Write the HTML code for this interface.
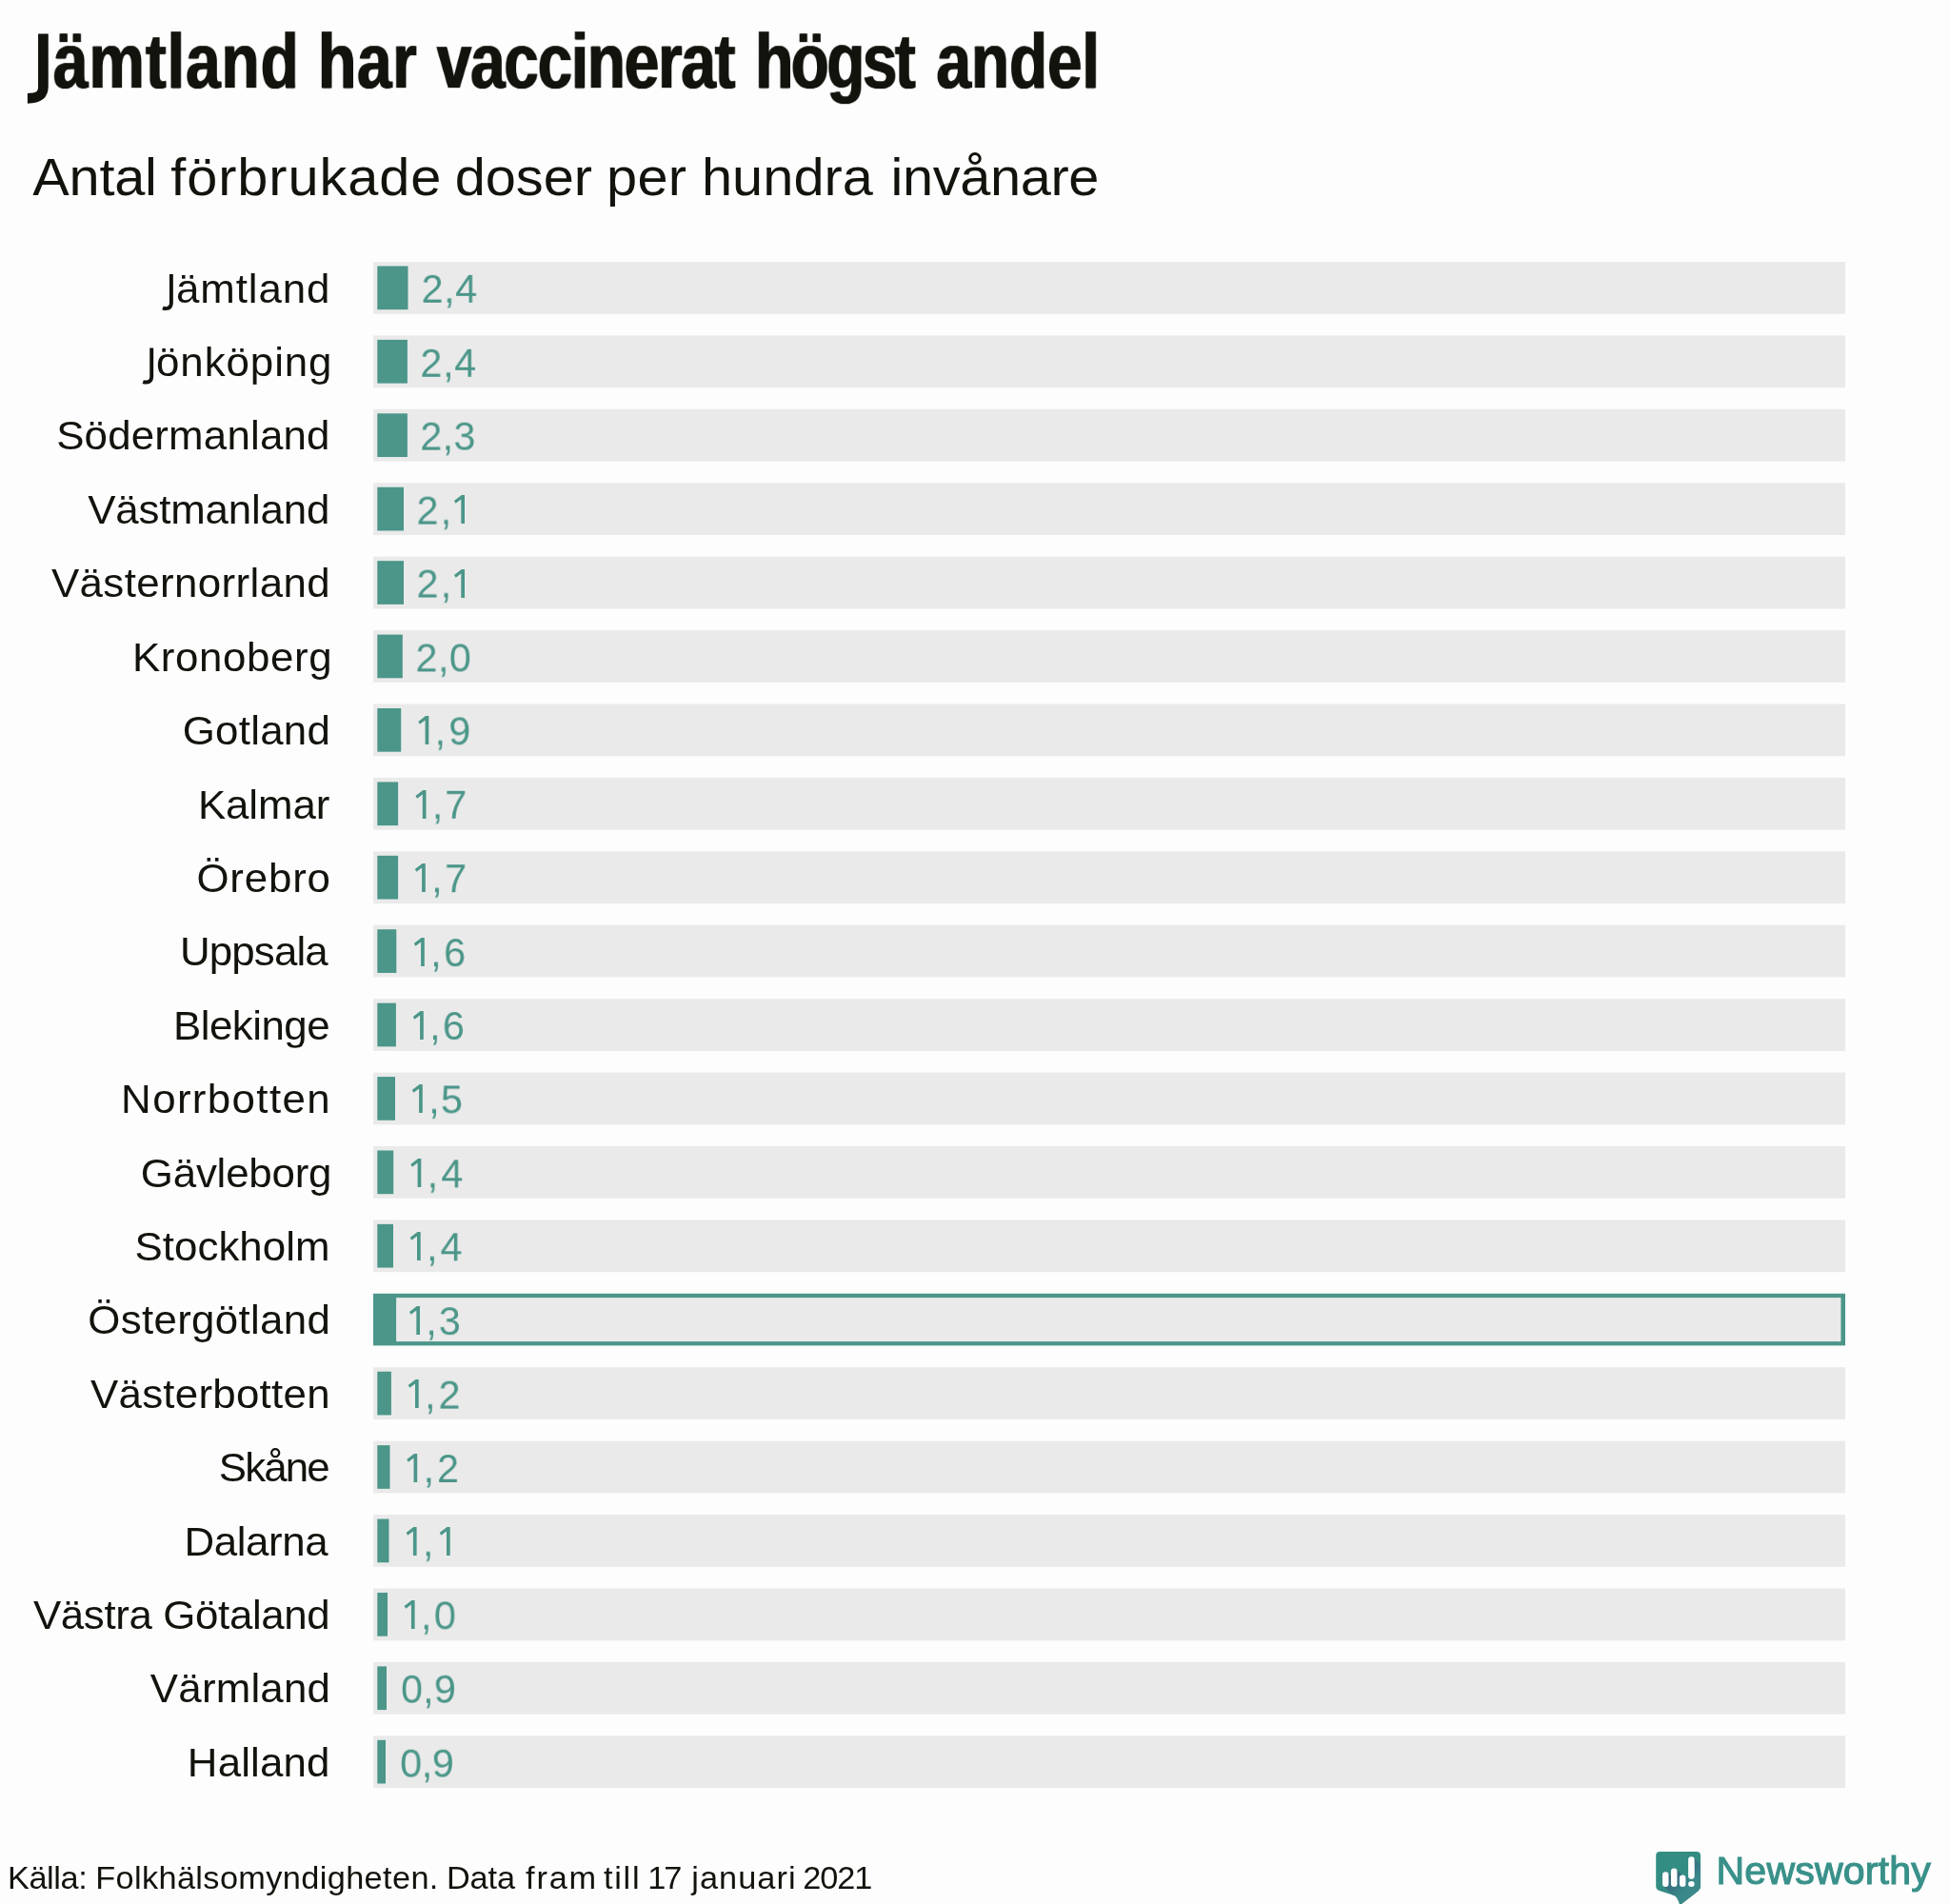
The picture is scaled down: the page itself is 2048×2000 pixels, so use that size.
<!DOCTYPE html>
<html lang="sv"><head><meta charset="utf-8"><title>Jämtland har vaccinerat högst andel</title>
<style>
html,body{margin:0;padding:0}
body{width:2048px;height:2000px;background:#fdfdfd;position:relative;overflow:hidden;font-family:"Liberation Sans",sans-serif;}
.t{position:absolute;left:0;top:0;white-space:pre;line-height:1;transform-origin:0 0;margin:0;padding:0;will-change:transform}
.lg{-webkit-text-stroke:1.15px currentColor}
.ti{font-weight:700;text-shadow:0.9px 0 0 currentColor,-0.9px 0 0 currentColor}
svg{position:absolute;left:0;top:0}
</style></head><body>
<svg id="bars" width="2048" height="2000" viewBox="0 0 2048 2000">
<rect x="392" y="275.00" width="1546" height="54.8" fill="#eaeaea"/>
<rect x="396.3" y="279.50" width="32.20" height="45.7" fill="#4b9689"/>
<rect x="392" y="352.42" width="1546" height="54.8" fill="#eaeaea"/>
<rect x="396.3" y="356.92" width="31.60" height="45.7" fill="#4b9689"/>
<rect x="392" y="429.83" width="1546" height="54.8" fill="#eaeaea"/>
<rect x="396.3" y="434.33" width="31.60" height="45.7" fill="#4b9689"/>
<rect x="392" y="507.25" width="1546" height="54.8" fill="#eaeaea"/>
<rect x="396.3" y="511.75" width="27.70" height="45.7" fill="#4b9689"/>
<rect x="392" y="584.66" width="1546" height="54.8" fill="#eaeaea"/>
<rect x="396.3" y="589.16" width="27.70" height="45.7" fill="#4b9689"/>
<rect x="392" y="662.08" width="1546" height="54.8" fill="#eaeaea"/>
<rect x="396.3" y="666.58" width="26.50" height="45.7" fill="#4b9689"/>
<rect x="392" y="739.49" width="1546" height="54.8" fill="#eaeaea"/>
<rect x="396.3" y="743.99" width="24.90" height="45.7" fill="#4b9689"/>
<rect x="392" y="816.91" width="1546" height="54.8" fill="#eaeaea"/>
<rect x="396.3" y="821.41" width="21.80" height="45.7" fill="#4b9689"/>
<rect x="392" y="894.32" width="1546" height="54.8" fill="#eaeaea"/>
<rect x="396.3" y="898.82" width="21.80" height="45.7" fill="#4b9689"/>
<rect x="392" y="971.74" width="1546" height="54.8" fill="#eaeaea"/>
<rect x="396.3" y="976.24" width="20.00" height="45.7" fill="#4b9689"/>
<rect x="392" y="1049.15" width="1546" height="54.8" fill="#eaeaea"/>
<rect x="396.3" y="1053.65" width="19.60" height="45.7" fill="#4b9689"/>
<rect x="392" y="1126.57" width="1546" height="54.8" fill="#eaeaea"/>
<rect x="396.3" y="1131.07" width="18.70" height="45.7" fill="#4b9689"/>
<rect x="392" y="1203.98" width="1546" height="54.8" fill="#eaeaea"/>
<rect x="396.3" y="1208.48" width="16.90" height="45.7" fill="#4b9689"/>
<rect x="392" y="1281.39" width="1546" height="54.8" fill="#eaeaea"/>
<rect x="396.3" y="1285.89" width="16.70" height="45.7" fill="#4b9689"/>
<rect x="392" y="1358.81" width="1546" height="54.6" fill="#4b9689"/>
<rect x="416.10" y="1363.11" width="1517.30" height="46.00" fill="#eaeaea"/>
<rect x="392" y="1436.23" width="1546" height="54.8" fill="#eaeaea"/>
<rect x="396.3" y="1440.73" width="14.60" height="45.7" fill="#4b9689"/>
<rect x="392" y="1513.64" width="1546" height="54.8" fill="#eaeaea"/>
<rect x="396.3" y="1518.14" width="13.20" height="45.7" fill="#4b9689"/>
<rect x="392" y="1591.06" width="1546" height="54.8" fill="#eaeaea"/>
<rect x="396.3" y="1595.56" width="12.20" height="45.7" fill="#4b9689"/>
<rect x="392" y="1668.47" width="1546" height="54.8" fill="#eaeaea"/>
<rect x="396.3" y="1672.97" width="10.75" height="45.7" fill="#4b9689"/>
<rect x="392" y="1745.89" width="1546" height="54.8" fill="#eaeaea"/>
<rect x="396.3" y="1750.39" width="9.70" height="45.7" fill="#4b9689"/>
<rect x="392" y="1823.30" width="1546" height="54.8" fill="#eaeaea"/>
<rect x="396.3" y="1827.80" width="8.70" height="45.7" fill="#4b9689"/>
<path d="M45.4 35.4V90.5C45.4 100.5 40 103.3 28.9 103.3" fill="none" stroke="#13130e" stroke-width="10.7"/>
<path d="M477.00 526.10L484.80 519.90H488.00V550H484.30V524.40L478.60 528.70Z" fill="#4b9689"/>
<path d="M477.00 604.10L484.80 597.90H488.00V628H484.30V602.40L478.60 606.70Z" fill="#4b9689"/>
<path d="M439.30 758.10L447.10 751.90H450.30V782H446.60V756.40L440.90 760.70Z" fill="#4b9689"/>
<path d="M436.50 836.10L444.30 829.90H447.50V860H443.80V834.40L438.10 838.70Z" fill="#4b9689"/>
<path d="M435.80 913.10L443.60 906.90H446.80V937H443.10V911.40L437.40 915.70Z" fill="#4b9689"/>
<path d="M434.80 991.10L442.60 984.90H445.80V1015H442.10V989.40L436.40 993.70Z" fill="#4b9689"/>
<path d="M433.80 1068.10L441.60 1061.90H444.80V1092H441.10V1066.40L435.40 1070.70Z" fill="#4b9689"/>
<path d="M432.80 1145.10L440.60 1138.90H443.80V1169H440.10V1143.40L434.40 1147.70Z" fill="#4b9689"/>
<path d="M431.30 1223.10L439.10 1216.90H442.30V1247H438.60V1221.40L432.90 1225.70Z" fill="#4b9689"/>
<path d="M430.70 1300.10L438.50 1293.90H441.70V1324H438.00V1298.40L432.30 1302.70Z" fill="#4b9689"/>
<path d="M430.00 1378.10L437.80 1371.90H441.00V1402H437.30V1376.40L431.60 1380.70Z" fill="#4b9689"/>
<path d="M428.70 1455.10L436.50 1448.90H439.70V1479H436.00V1453.40L430.30 1457.70Z" fill="#4b9689"/>
<path d="M427.20 1533.10L435.00 1526.90H438.20V1557H434.50V1531.40L428.80 1535.70Z" fill="#4b9689"/>
<path d="M426.60 1610.10L434.40 1603.90H437.60V1634H433.90V1608.40L428.20 1612.70Z" fill="#4b9689"/>
<path d="M461.70 1610.10L469.50 1603.90H472.70V1634H469.00V1608.40L463.30 1612.70Z" fill="#4b9689"/>
<path d="M424.60 1687.10L432.40 1680.90H435.60V1711H431.90V1685.40L426.20 1689.70Z" fill="#4b9689"/>
<path d="M179.90 288.00V318.10Q179.90 324.10 174.30 324.10Q172.50 324.10 170.90 323.60" fill="none" stroke="#13130e" stroke-width="3.9"/>
<path d="M159.20 365.42V395.52Q159.20 401.52 153.60 401.52Q151.80 401.52 150.20 401.02" fill="none" stroke="#13130e" stroke-width="3.9"/>
</svg>
<svg id="logo" width="2048" height="2000" viewBox="0 0 2048 2000">
<defs>
<clipPath id="lc"><path d="M1743.4 1944.9H1781.8Q1786 1944.9 1786 1949.1V1980.9Q1786 1984.2 1783.4 1986.3L1765.6 2000.3L1764.9 2003L1764.1 2001.5Q1762.2 1992.6 1758.2 1991L1742.6 1985.9Q1739.2 1984.7 1739.2 1981.2V1949.1Q1739.2 1944.9 1743.4 1944.9Z"/></clipPath>
<linearGradient id="lgs" gradientUnits="userSpaceOnUse" x1="1751" y1="1970" x2="1768" y2="1987"><stop offset="0" stop-color="#2d6179"/><stop offset="0.55" stop-color="#377685"/><stop offset="1" stop-color="#3a888a"/></linearGradient>
</defs>
<path d="M1743.4 1944.9H1781.8Q1786 1944.9 1786 1949.1V1980.9Q1786 1984.2 1783.4 1986.3L1765.6 2000.3L1764.9 2003L1764.1 2001.5Q1762.2 1992.6 1758.2 1991L1742.6 1985.9Q1739.2 1984.7 1739.2 1981.2V1949.1Q1739.2 1944.9 1743.4 1944.9Z" fill="#348d83"/>
<g clip-path="url(#lc)">
<polygon points="1751.55,1967.15 1821.55,2037.15 1816.95,2051.05 1746.95,1981.05" fill="url(#lgs)"/>
<polygon points="1760.50,1963.55 1830.50,2033.55 1825.90,2051.05 1755.90,1981.05" fill="url(#lgs)"/>
<polygon points="1769.45,1970.55 1839.45,2040.55 1834.85,2051.05 1764.85,1981.05" fill="url(#lgs)"/>
<polygon points="1778.73,1951.27 1848.73,2021.27 1844.07,2042.93 1774.07,1972.93" fill="url(#lgs)"/>
<polygon points="1778.73,1976.87 1848.73,2046.87 1844.07,2051.03 1774.07,1981.03" fill="url(#lgs)"/>
</g>
<rect x="1746.00" y="1966.20" width="6.50" height="15.80" rx="3.25" fill="#fdfdfd"/>
<rect x="1754.95" y="1962.60" width="6.50" height="19.40" rx="3.25" fill="#fdfdfd"/>
<rect x="1763.90" y="1969.60" width="6.50" height="12.40" rx="3.25" fill="#fdfdfd"/>
<rect x="1773.10" y="1950.30" width="6.60" height="23.60" rx="3.30" fill="#fdfdfd"/>
<rect x="1773.10" y="1975.90" width="6.60" height="6.10" rx="3.30" fill="#fdfdfd"/>
</svg>
<div class="t ti" id="ti0" style="font-size:82px;color:#13130e;letter-spacing:1.302px;transform:translate(55.95px,23.18px) scaleX(0.8000)">ämtland</div>
<div class="t ti" id="ti1" style="font-size:82px;color:#13130e;letter-spacing:1.000px;transform:translate(334.07px,23.18px) scaleX(0.8000)">har</div>
<div class="t ti" id="ti2" style="font-size:82px;color:#13130e;letter-spacing:-1.507px;transform:translate(458.71px,23.18px) scaleX(0.8000)">vaccinerat</div>
<div class="t ti" id="ti3" style="font-size:82px;color:#13130e;letter-spacing:-3.127px;transform:translate(793.16px,23.18px) scaleX(0.8000)">högst</div>
<div class="t ti" id="ti4" style="font-size:82px;color:#13130e;letter-spacing:-0.033px;transform:translate(983.46px,23.18px) scaleX(0.8000)">andel</div>
<div class="t" id="su0" style="font-size:56px;color:#13130e;letter-spacing:-0.212px;transform:translate(34.30px,158.10px) scaleX(1.0300)">Antal</div>
<div class="t" id="su1" style="font-size:56px;color:#13130e;letter-spacing:0.891px;transform:translate(179.26px,158.10px) scaleX(1.0300)">förbrukade</div>
<div class="t" id="su2" style="font-size:56px;color:#13130e;letter-spacing:-0.006px;transform:translate(477.66px,158.10px) scaleX(1.0300)">doser</div>
<div class="t" id="su3" style="font-size:56px;color:#13130e;letter-spacing:0.258px;transform:translate(637.11px,158.10px) scaleX(1.0300)">per</div>
<div class="t" id="su4" style="font-size:56px;color:#13130e;letter-spacing:0.076px;transform:translate(736.95px,158.10px) scaleX(1.0300)">hundra</div>
<div class="t" id="su5" style="font-size:56px;color:#13130e;letter-spacing:-0.320px;transform:translate(935.42px,158.10px) scaleX(1.0300)">invånare</div>
<div class="t" id="fo0" style="font-size:33px;color:#13130e;letter-spacing:-0.400px;transform:translate(7.91px,1955.67px) scaleX(1.0400)">Källa:</div>
<div class="t" id="fo1" style="font-size:33px;color:#13130e;letter-spacing:0.350px;transform:translate(100.17px,1955.67px) scaleX(1.0400)">Folkhälsomyndigheten.</div>
<div class="t" id="fo2" style="font-size:33px;color:#13130e;letter-spacing:-0.130px;transform:translate(468.95px,1955.67px) scaleX(1.0400)">Data</div>
<div class="t" id="fo3" style="font-size:33px;color:#13130e;letter-spacing:1.734px;transform:translate(552.08px,1955.67px) scaleX(1.0400)">fram</div>
<div class="t" id="fo4" style="font-size:33px;color:#13130e;letter-spacing:1.672px;transform:translate(633.93px,1955.67px) scaleX(1.0400)">till</div>
<div class="t" id="fo5" style="font-size:33px;color:#13130e;letter-spacing:-1.919px;transform:translate(680.25px,1955.56px) scaleX(1.0400)">17</div>
<div class="t" id="fo6" style="font-size:33px;color:#13130e;letter-spacing:0.987px;transform:translate(726.35px,1955.67px) scaleX(1.0400)">januari</div>
<div class="t" id="fo7" style="font-size:33px;color:#13130e;letter-spacing:-1.013px;transform:translate(843.22px,1955.56px) scaleX(1.0400)">2021</div>
<div class="t lg" id="lg0" style="font-size:41px;color:#39918a;letter-spacing:0.212px;transform:translate(1802.54px,1945.16px) scaleX(1.0000)">Newsworthy</div>
<div class="t" id="lb0" style="font-size:43px;color:#13130e;letter-spacing:0.884px;transform:translate(185.03px,281.70px) scaleX(1.0200)">ämtland</div>
<div class="t" id="vl0" style="font-size:43px;color:#4b9689;letter-spacing:0.523px;transform:translate(442.56px,281.84px) scaleX(0.9620)">2,4</div>
<div class="t" id="lb1" style="font-size:43px;color:#13130e;letter-spacing:0.903px;transform:translate(164.03px,358.82px) scaleX(1.0200)">önköping</div>
<div class="t" id="vl1" style="font-size:43px;color:#4b9689;letter-spacing:0.747px;transform:translate(441.32px,359.77px) scaleX(0.9620)">2,4</div>
<div class="t" id="lb2" style="font-size:43px;color:#13130e;letter-spacing:0.180px;transform:translate(59.15px,436.33px) scaleX(1.0200)">Södermanland</div>
<div class="t" id="vl2" style="font-size:43px;color:#4b9689;letter-spacing:0.266px;transform:translate(441.30px,436.68px) scaleX(0.9620)">2,3</div>
<div class="t" id="lb3" style="font-size:43px;color:#13130e;letter-spacing:-0.167px;transform:translate(92.14px,513.90px) scaleX(1.0200)">Västmanland</div>
<div class="t" id="vl3" style="font-size:43px;color:#4b9689;letter-spacing:2.212px;transform:translate(437.46px,514.60px) scaleX(0.9620)">2,</div>
<div class="t" id="lb4" style="font-size:43px;color:#13130e;letter-spacing:0.374px;transform:translate(53.96px,591.46px) scaleX(1.0200)">Västernorrland</div>
<div class="t" id="vl4" style="font-size:43px;color:#4b9689;letter-spacing:2.212px;transform:translate(437.46px,591.54px) scaleX(0.9620)">2,</div>
<div class="t" id="lb5" style="font-size:43px;color:#13130e;letter-spacing:0.586px;transform:translate(138.99px,669.08px) scaleX(1.0200)">Kronoberg</div>
<div class="t" id="vl5" style="font-size:43px;color:#4b9689;letter-spacing:0.482px;transform:translate(436.44px,669.42px) scaleX(0.9620)">2,0</div>
<div class="t" id="lb6" style="font-size:43px;color:#13130e;letter-spacing:0.227px;transform:translate(191.77px,745.59px) scaleX(1.0200)">Gotland</div>
<div class="t" id="vl6" style="font-size:43px;color:#4b9689;letter-spacing:3.192px;transform:translate(456.61px,746.34px) scaleX(0.9620)">,9</div>
<div class="t" id="lb7" style="font-size:43px;color:#13130e;letter-spacing:-0.107px;transform:translate(207.90px,823.68px) scaleX(1.0200)">Kalmar</div>
<div class="t" id="vl7" style="font-size:43px;color:#4b9689;letter-spacing:1.935px;transform:translate(453.80px,823.76px) scaleX(0.9620)">,7</div>
<div class="t" id="lb8" style="font-size:43px;color:#13130e;letter-spacing:0.794px;transform:translate(206.41px,900.72px) scaleX(1.0200)">Örebro</div>
<div class="t" id="vl8" style="font-size:43px;color:#4b9689;letter-spacing:2.574px;transform:translate(453.16px,901.18px) scaleX(0.9620)">,7</div>
<div class="t" id="lb9" style="font-size:43px;color:#13130e;letter-spacing:-0.868px;transform:translate(189.07px,978.34px) scaleX(1.0200)">Uppsala</div>
<div class="t" id="vl9" style="font-size:43px;color:#4b9689;letter-spacing:2.614px;transform:translate(452.15px,979.09px) scaleX(0.9620)">,6</div>
<div class="t" id="lb10" style="font-size:43px;color:#13130e;letter-spacing:-0.515px;transform:translate(181.97px,1055.73px) scaleX(1.0200)">Blekinge</div>
<div class="t" id="vl10" style="font-size:43px;color:#4b9689;letter-spacing:2.205px;transform:translate(451.16px,1056.03px) scaleX(0.9620)">,6</div>
<div class="t" id="lb11" style="font-size:43px;color:#13130e;letter-spacing:1.334px;transform:translate(127.11px,1133.38px) scaleX(1.0200)">Norrbotten</div>
<div class="t" id="vl11" style="font-size:43px;color:#4b9689;letter-spacing:1.398px;transform:translate(450.18px,1133.41px) scaleX(0.9620)">,5</div>
<div class="t" id="lb12" style="font-size:43px;color:#13130e;letter-spacing:-0.213px;transform:translate(147.83px,1210.98px) scaleX(1.0200)">Gävleborg</div>
<div class="t" id="vl12" style="font-size:43px;color:#4b9689;letter-spacing:3.255px;transform:translate(448.65px,1211.33px) scaleX(0.9620)">,4</div>
<div class="t" id="lb13" style="font-size:43px;color:#13130e;letter-spacing:0.037px;transform:translate(141.48px,1287.60px) scaleX(1.0200)">Stockholm</div>
<div class="t" id="vl13" style="font-size:43px;color:#4b9689;letter-spacing:3.061px;transform:translate(448.05px,1288.27px) scaleX(0.9620)">,4</div>
<div class="t" id="lb14" style="font-size:43px;color:#13130e;letter-spacing:0.305px;transform:translate(92.26px,1365.11px) scaleX(1.0200)">Östergötland</div>
<div class="t" id="vl14" style="font-size:43px;color:#4b9689;letter-spacing:2.100px;transform:translate(447.32px,1366.15px) scaleX(0.9620)">,3</div>
<div class="t" id="lb15" style="font-size:43px;color:#13130e;letter-spacing:0.255px;transform:translate(94.96px,1442.73px) scaleX(1.0200)">Västerbotten</div>
<div class="t" id="vl15" style="font-size:43px;color:#4b9689;letter-spacing:2.983px;transform:translate(446.05px,1443.59px) scaleX(0.9620)">,2</div>
<div class="t" id="lb16" style="font-size:43px;color:#13130e;letter-spacing:-1.845px;transform:translate(229.77px,1520.18px) scaleX(1.0200)">Skåne</div>
<div class="t" id="vl16" style="font-size:43px;color:#4b9689;letter-spacing:3.012px;transform:translate(444.57px,1520.99px) scaleX(0.9620)">,2</div>
<div class="t" id="lb17" style="font-size:43px;color:#13130e;letter-spacing:-0.416px;transform:translate(193.52px,1597.86px) scaleX(1.0200)">Dalarna</div>
<div class="t" id="vl17" style="font-size:43px;color:#4b9689;letter-spacing:-3.219px;transform:translate(443.90px,1598.42px) scaleX(0.9620)">,</div>
<div class="t" id="lb18" style="font-size:43px;color:#13130e;letter-spacing:-0.357px;transform:translate(34.90px,1675.37px) scaleX(1.0200)">Västra Götaland</div>
<div class="t" id="vl18" style="font-size:43px;color:#4b9689;letter-spacing:2.615px;transform:translate(441.90px,1675.33px) scaleX(0.9620)">,0</div>
<div class="t" id="lb19" style="font-size:43px;color:#13130e;letter-spacing:0.189px;transform:translate(157.85px,1752.43px) scaleX(1.0200)">Värmland</div>
<div class="t" id="vl19" style="font-size:43px;color:#4b9689;letter-spacing:0.183px;transform:translate(421.01px,1752.73px) scaleX(0.9620)">0,9</div>
<div class="t" id="lb20" style="font-size:43px;color:#13130e;letter-spacing:0.140px;transform:translate(196.86px,1829.50px) scaleX(1.0200)">Halland</div>
<div class="t" id="vl20" style="font-size:43px;color:#4b9689;letter-spacing:-0.413px;transform:translate(420.15px,1830.66px) scaleX(0.9620)">0,9</div>
</body></html>
